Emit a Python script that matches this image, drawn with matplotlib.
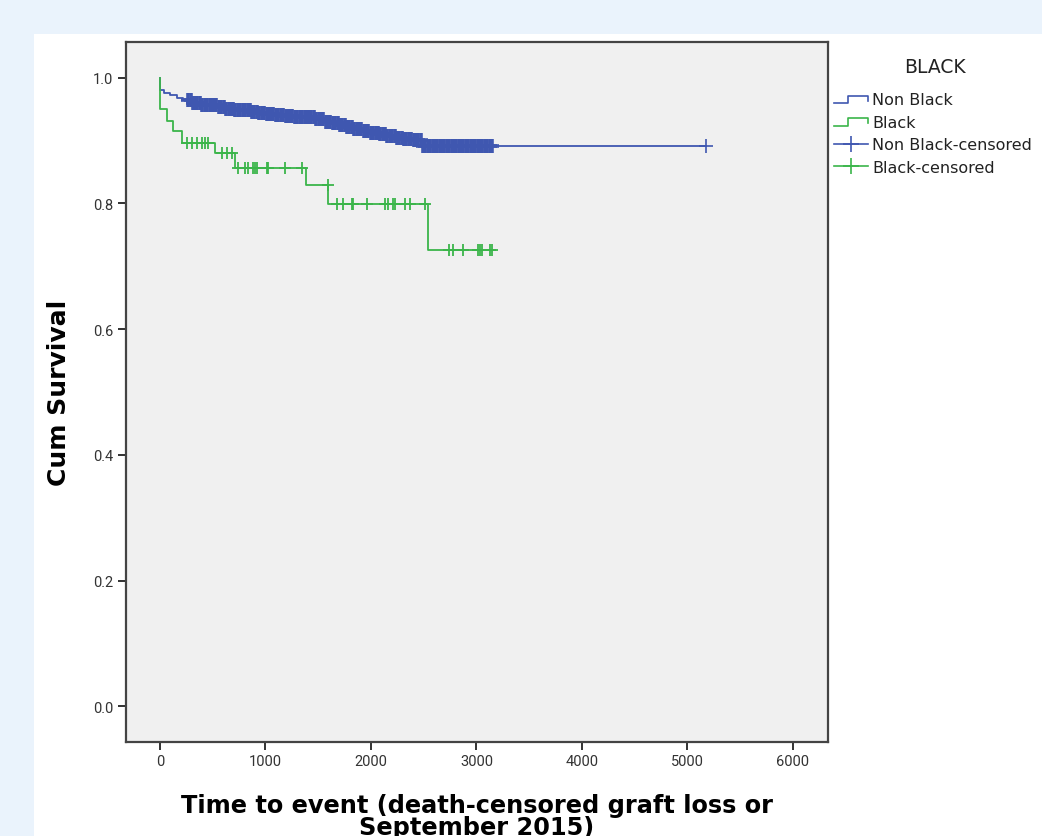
import numpy as np
import matplotlib
matplotlib.use('Agg')
import matplotlib.pyplot as plt
from matplotlib.lines import Line2D
from matplotlib.patches import Rectangle
from matplotlib.legend_handler import HandlerBase

plt.rcParams['font.family'] = ['DejaVu Sans']

# Curvas Kaplan-Meier (tiempo en dias, supervivencia)
nb_times = [0, 3, 40, 95, 160, 221, 300, 400, 537, 620, 700, 780, 853, 930,
            1000, 1080, 1169, 1260, 1350, 1480, 1560, 1630, 1700, 1770, 1833,
            1920, 2000, 2070, 2149, 2230, 2300, 2400, 2480]
nb_surv = [1.0, 0.980, 0.976, 0.972, 0.968, 0.964, 0.960, 0.957, 0.953, 0.951,
           0.949, 0.948, 0.946, 0.944, 0.942, 0.941, 0.939, 0.938, 0.937, 0.935,
           0.930, 0.928, 0.925, 0.921, 0.918, 0.915, 0.912, 0.910, 0.907, 0.905,
           0.903, 0.901, 0.891]
nb_cens = [270, 290, 310, 335, 355, 380, 400, 425, 445, 470, 490, 515, 535, 560,
           580, 605, 625, 650, 670, 695, 715, 740, 760, 785, 805, 830, 850, 875,
           895, 920, 940, 965, 985, 1010, 1030, 1055, 1075, 1100, 1120, 1145, 1165,
           1190, 1210, 1235, 1255, 1280, 1300, 1325, 1345, 1370, 1390, 1415, 1435,
           1460, 1480, 1505, 1525, 1550, 1570, 1595, 1615, 1640, 1660, 1685, 1705,
           1730, 1750, 1775, 1795, 1820, 1840, 1865, 1885, 1910, 1930, 1955, 1975,
           2000, 2020, 2045, 2065, 2090, 2110, 2135, 2155, 2180, 2200, 2225, 2245,
           2270, 2290, 2315, 2335, 2360, 2380, 2405, 2425, 2450, 2470, 2495, 2515,
           2540, 2560, 2585, 2605, 2630, 2650, 2675, 2695, 2720, 2740, 2765, 2785,
           2810, 2830, 2855, 2875, 2900, 2920, 2945, 2965, 2990, 3010, 3035, 3055,
           3080, 3100, 3125, 3150]
nb_last_cens = [5172]

b_times = [0, 5, 63, 126, 206, 521, 711, 1384, 1595, 2543]
b_surv = [1.0, 0.951, 0.932, 0.916, 0.897, 0.881, 0.857, 0.830, 0.799, 0.726]
b_cens = [253, 300, 348, 395, 427, 458, 585, 632, 680, 742, 806, 837, 884, 900,
          916, 1011, 1027, 1185, 1343, 1592, 1675, 1737, 1817, 1832, 1959, 2133,
          2164, 2211, 2227, 2322, 2370, 2512, 2742, 2774, 2875, 3017, 3033, 3049,
          3128, 3150]

blue = '#3F57B0'
green = '#3BB54A'


def surv_at(times, surv, t):
    idx = np.searchsorted(times, t, side='right') - 1
    return np.array(surv)[idx]


class StepHandler(HandlerBase):
    def create_artists(self, legend, orig_handle, xdescent, ydescent, width,
                       height, fontsize, trans):
        x0 = -xdescent
        y0 = -ydescent
        xs = [x0, x0 + width * 0.4, x0 + width * 0.4, x0 + width, x0 + width]
        ys = [y0 + height * 0.1, y0 + height * 0.1, y0 + height * 0.8,
              y0 + height * 0.8, y0 + height * 0.35]
        ln = Line2D(xs, ys, color=orig_handle.get_color(), lw=1.2,
                    transform=trans)
        return [ln]


fig = plt.figure(figsize=(10.42, 8.37), dpi=100, facecolor='#EAF3FC')
fig.add_artist(Rectangle((34 / 1042, 0), 1, 1 - 35 / 837,
                         transform=fig.transFigure, facecolor='white',
                         edgecolor='none', zorder=0))

ax = fig.add_axes([126 / 1042, 1 - 743 / 837, 702 / 1042, 700 / 837])
ax.set_facecolor('#F0F0F0')

# curvas escalonadas
nb_x = nb_times + nb_last_cens
nb_y = nb_surv + [nb_surv[-1]]
ax.step(nb_x, nb_y, where='post', color=blue, lw=1.3, zorder=3)
b_x = b_times + [b_cens[-1]]
b_y = b_surv + [b_surv[-1]]
ax.step(b_x, b_y, where='post', color=green, lw=1.3, zorder=4)

# marcas de censura
ax.plot(nb_cens, surv_at(nb_times, nb_surv, nb_cens), ls='none', marker='+',
        ms=10.5, mew=2.6, color=blue, zorder=3)
ax.plot(nb_last_cens, surv_at(nb_times, nb_surv, nb_last_cens), ls='none',
        marker='+', ms=10, mew=1.2, color=blue, zorder=3)
ax.plot(b_cens, surv_at(b_times, b_surv, b_cens), ls='none', marker='+',
        ms=8, mew=1.3, color=green, zorder=4)

ax.set_xlim(-322, 6332)
ax.set_ylim(-0.057, 1.057)
ax.set_xticks([0, 1000, 2000, 3000, 4000, 5000, 6000])
ax.set_yticks([0.0, 0.2, 0.4, 0.6, 0.8, 1.0])
ax.set_yticklabels(['0.0', '0.2', '0.4', '0.6', '0.8', '1.0'])
ax.tick_params(direction='out', length=6, width=1.3, color='#222222',
               labelsize=10.5, labelcolor='#333333', pad=3)
for lab in ax.get_xticklabels() + ax.get_yticklabels():
    lab.set_fontfamily('Roboto')
for sp in ax.spines.values():
    sp.set_color('#444444')
    sp.set_linewidth(1.6)

ax.set_xlabel('Time to event (death-censored graft loss or\nSeptember 2015)',
              fontsize=17.3, fontweight='bold', labelpad=18, linespacing=0.88)
ax.set_ylabel('Cum Survival', fontsize=18, fontweight='bold', labelpad=16)

h1 = Line2D([], [], color=blue)
h2 = Line2D([], [], color=green)
h3 = Line2D([], [], color=blue, marker='+', ms=12, mew=1.2, lw=1.2)
h4 = Line2D([], [], color=green, marker='+', ms=12, mew=1.2, lw=1.2)
leg = ax.legend([h1, h2, h3, h4],
                ['Non Black', 'Black', 'Non Black-censored', 'Black-censored'],
                handler_map={h1: StepHandler(), h2: StepHandler()},
                title='BLACK', loc='upper left', bbox_to_anchor=(1.0, 0.988),
                frameon=False, fontsize=11.5, title_fontsize=13.5,
                handlelength=2.1, handletextpad=0.25, labelspacing=0.47,
                borderaxespad=0.0)
leg._legend_box.align = 'left'
leg._legend_box.sep = 12
leg.get_title().set_color('#222222')
leg.get_title().set_position((70, 0))
for t in leg.get_texts():
    t.set_color('#222222')

fig.savefig('out.png', dpi=100, facecolor=fig.get_facecolor())
